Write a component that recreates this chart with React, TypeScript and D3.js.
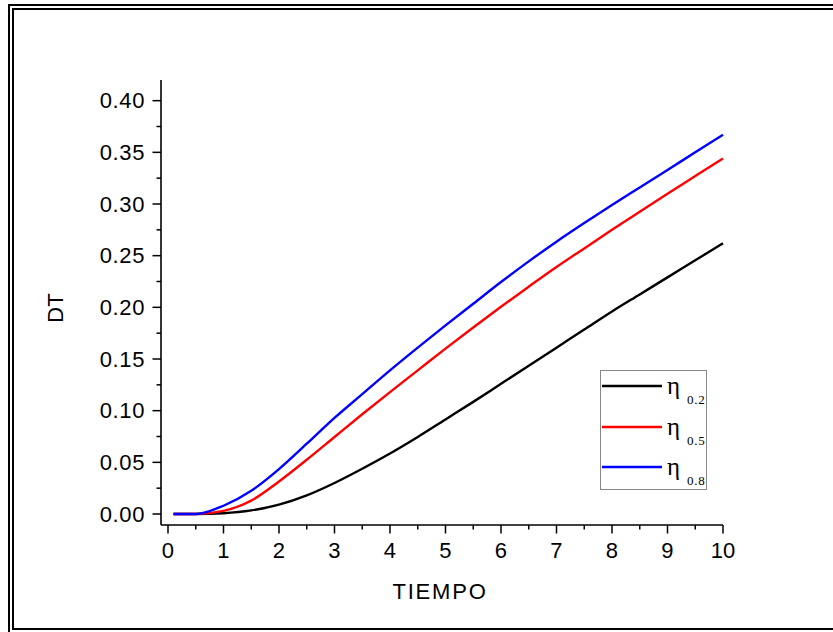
import React from "react";
import * as d3 from "d3";

const tiempo = [0.1, 0.5, 1, 1.5, 2, 2.5, 3, 3.5, 4, 4.5, 5, 5.5, 6, 6.5, 7, 7.5, 8, 8.5, 9, 9.5, 10];
const eta02 = [0, 0, 0.0008, 0.0035, 0.009, 0.018, 0.030, 0.0438, 0.0585, 0.0745, 0.0915, 0.1085, 0.126, 0.1435, 0.161, 0.1785, 0.196, 0.2125, 0.229, 0.2455, 0.262];
const eta05 = [0, 0, 0.003, 0.013, 0.0315, 0.0525, 0.0745, 0.0965, 0.118, 0.139, 0.160, 0.1805, 0.2005, 0.220, 0.239, 0.257, 0.275, 0.2925, 0.310, 0.327, 0.344];
const eta08 = [0, 0, 0.008, 0.0225, 0.0435, 0.068, 0.093, 0.116, 0.139, 0.161, 0.1825, 0.2035, 0.2245, 0.2445, 0.2635, 0.2815, 0.299, 0.316, 0.333, 0.350, 0.367];

const seriesNames = ["0.2", "0.5", "0.8"];
const seriesColors = ["#000000", "#ff0000", "#0000ff"];
const xTicks = [0, 1, 2, 3, 4, 5, 6, 7, 8, 9, 10];
const yTicks = [0, 0.05, 0.1, 0.15, 0.2, 0.25, 0.3, 0.35, 0.4];

const W = 833;
const H = 632;
const left = 161, right = 723, top = 80, bottom = 525;

export default function App() {
  const x = d3.scaleLinear().domain([-0.126, 10]).range([left, right]);
  const y = d3.scaleLinear().domain([-0.01064, 0.42]).range([bottom, top]);
  const series = [eta02, eta05, eta08];
  const line = d3
    .line<number>()
    .x((_, i) => x(tiempo[i]))
    .y((d) => y(d))
    .curve(d3.curveMonotoneX);

  const xMinor = d3.range(0.5, 10, 1);
  const yMinor = d3.range(0.025, 0.42, 0.05);
  const font = "Arial, 'Liberation Sans', sans-serif";
  const serif = "'Times New Roman', 'Liberation Serif', serif";
  const legendY = [386, 427, 467];

  return (
    <svg
      width={W}
      height={H}
      style={{ position: "absolute", left: 0, top: 0, background: "#ffffff" }}
    >
      <rect x={0} y={0} width={W} height={H} fill="#ffffff" />
      {/* frames */}
      <rect x={9} y={5} width={840} height={640} fill="none" stroke="#000" strokeWidth={2} />
      <rect x={13} y={9} width={840} height={620} fill="none" stroke="#000" strokeWidth={2} />

      {/* curves */}
      {series.map((s, i) => (
        <path key={i} d={line(s) || ""} fill="none" stroke={seriesColors[i]} strokeWidth={2.4} strokeLinejoin="round" />
      ))}

      {/* axes */}
      <line x1={left} x2={left} y1={top} y2={bottom} stroke="#000" strokeWidth={1.6} />
      <line x1={left} x2={right} y1={bottom} y2={bottom} stroke="#000" strokeWidth={1.6} />

      {xTicks.map((t) => (
        <g key={"xt" + t}>
          <line x1={x(t)} x2={x(t)} y1={bottom} y2={bottom + 8.5} stroke="#000" strokeWidth={1.5} />
          <text x={x(t)} y={558} textAnchor="middle" fontFamily={font} fontSize={22} fill="#000">
            {t}
          </text>
        </g>
      ))}
      {xMinor.map((t) => (
        <line key={"xm" + t} x1={x(t)} x2={x(t)} y1={bottom} y2={bottom + 4.5} stroke="#000" strokeWidth={1.5} />
      ))}

      {yTicks.map((t) => (
        <g key={"yt" + t}>
          <line x1={left - 8.5} x2={left} y1={y(t)} y2={y(t)} stroke="#000" strokeWidth={1.5} />
          <text x={145} y={y(t) + 7.8} textAnchor="end" fontFamily={font} fontSize={22} letterSpacing={0.6} fill="#000">
            {t.toFixed(2)}
          </text>
        </g>
      ))}
      {yMinor.map((t) => (
        <line key={"ym" + t} x1={left - 4.5} x2={left} y1={y(t)} y2={y(t)} stroke="#000" strokeWidth={1.5} />
      ))}

      {/* axis titles */}
      <text x={440} y={599} textAnchor="middle" fontFamily={font} fontSize={22} letterSpacing={1.8} fill="#000">
        TIEMPO
      </text>
      <text
        transform={`translate(63,308) rotate(-90)`}
        textAnchor="middle"
        fontFamily={font}
        fontSize={22}
        fill="#000"
      >
        DT
      </text>

      {/* legend */}
      <rect x={600.5} y={370.5} width={106} height={119} fill="#fff" stroke="#888" strokeWidth={1} />
      {seriesNames.map((n, i) => (
        <g key={"lg" + n}>
          <line x1={602} x2={662} y1={legendY[i]} y2={legendY[i]} stroke={seriesColors[i]} strokeWidth={2.6} />
          <text x={667} y={legendY[i] + 8} fontFamily={serif} fontSize={25} fill="#000">
            η
          </text>
          <text x={687} y={legendY[i] + 18} fontFamily={serif} fontSize={13} letterSpacing={0.8} fill="#000">
            {n}
          </text>
        </g>
      ))}
    </svg>
  );
}
